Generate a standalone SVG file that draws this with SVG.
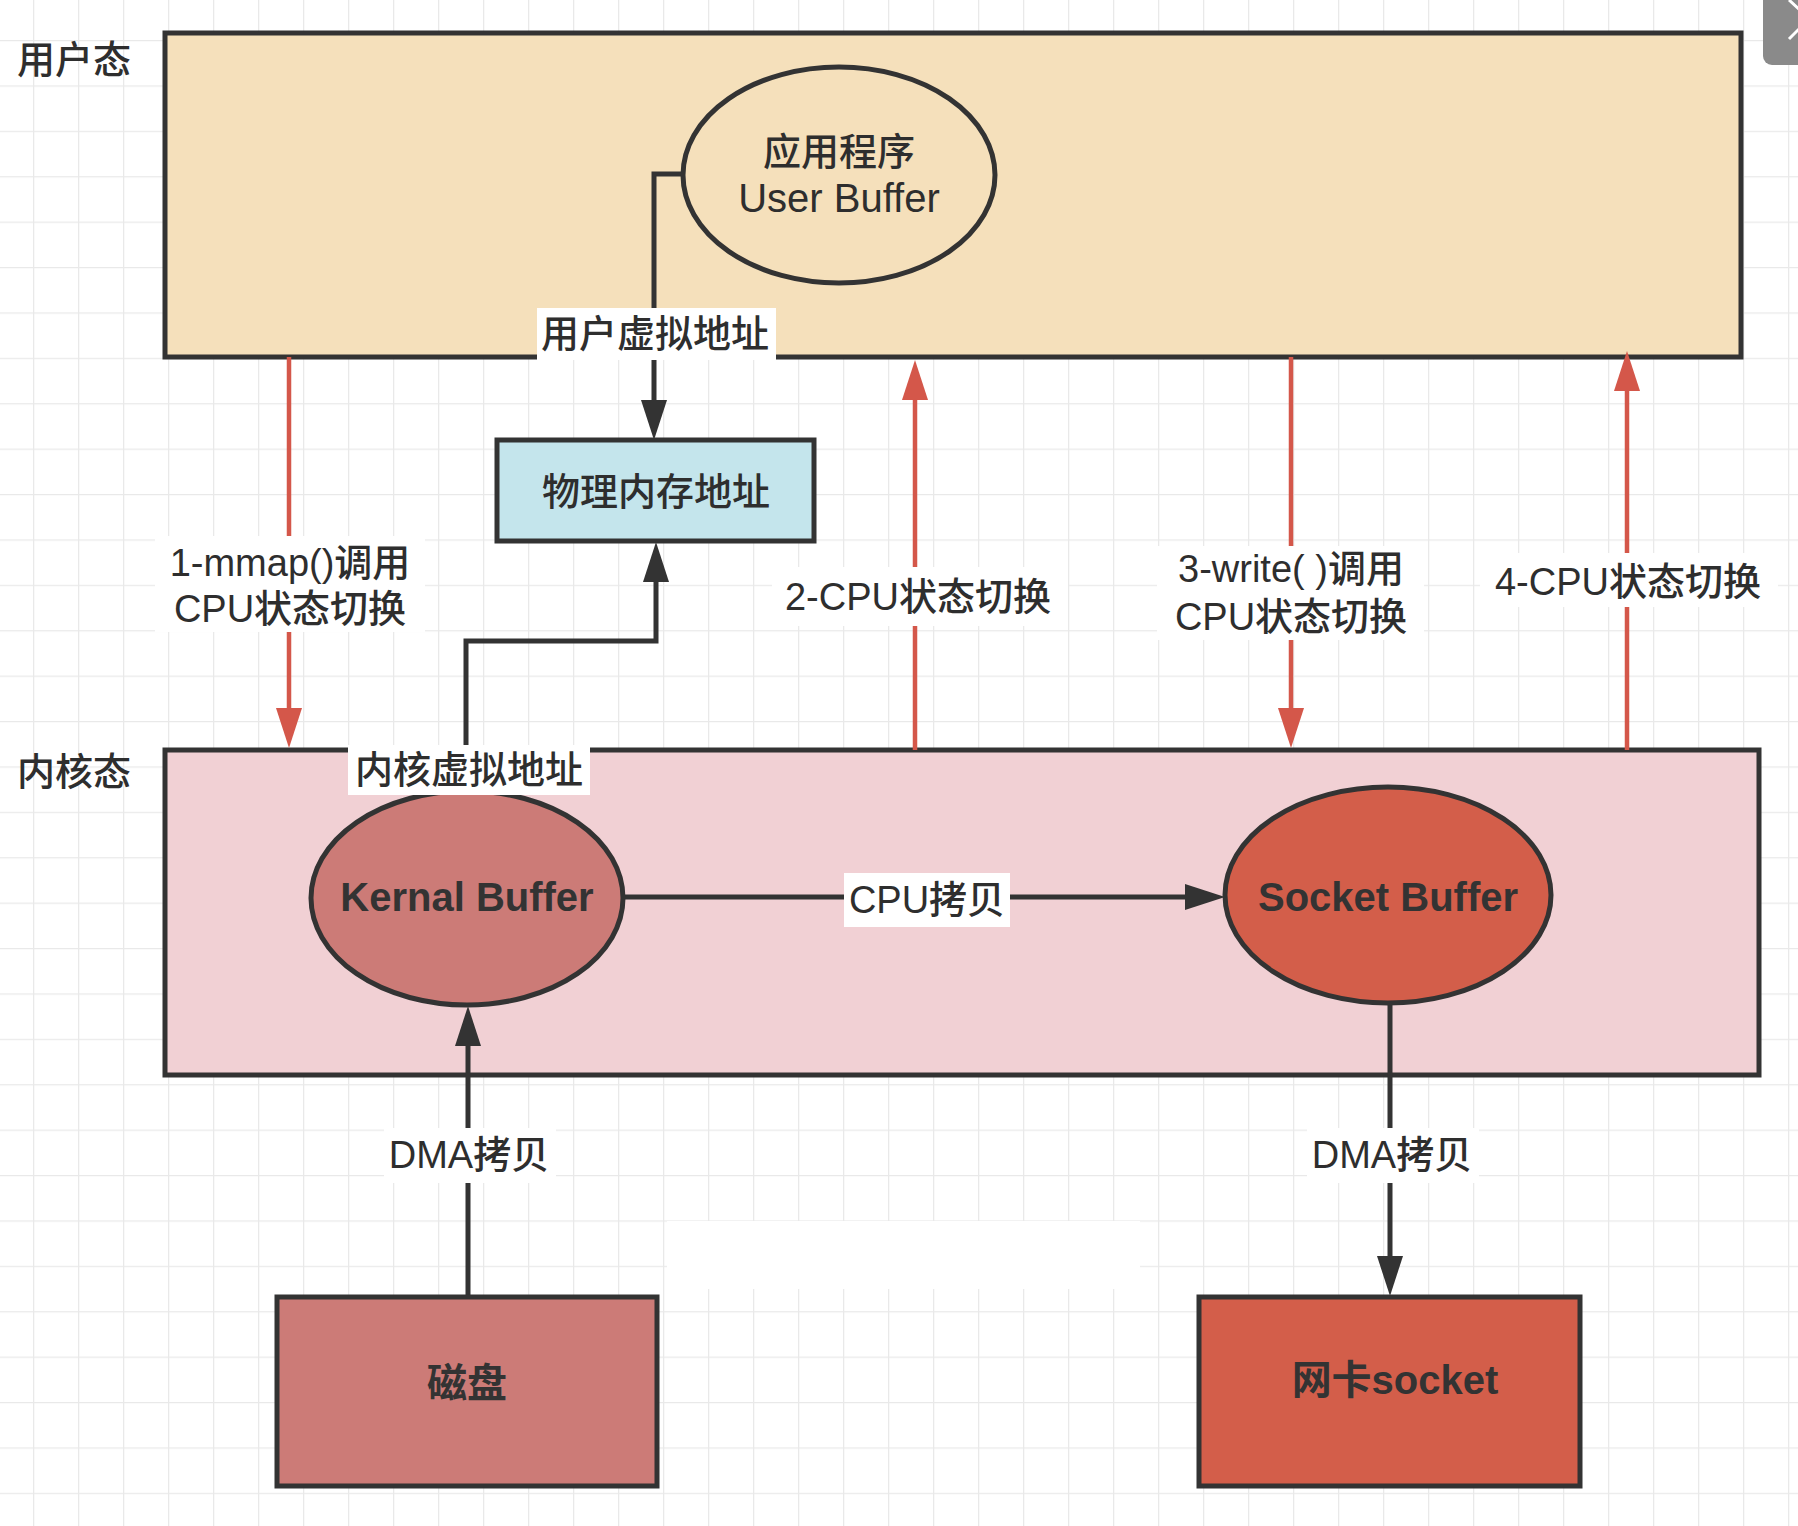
<svg xmlns="http://www.w3.org/2000/svg" width="1798" height="1526" viewBox="0 0 1798 1526">
<style>
text{font-family:"Liberation Sans","Noto Sans CJK SC",sans-serif;fill:#2e2e2e;font-weight:500;}
.t38{font-size:38px;}
.lbl{font-size:38px;text-anchor:middle;}
.nb{font-size:40px;font-weight:bold;text-anchor:middle;fill:#333;}
.box{stroke:#333;stroke-width:5;}
.bg{fill:#fff;}
.blk{fill:none;stroke:#333;stroke-width:5;marker-end:url(#ahb);}
.red{fill:none;stroke:#d4574a;stroke-width:4.5;marker-end:url(#ahr);}
</style>
<defs>
<pattern id="grid" patternUnits="userSpaceOnUse" x="33" y="40" width="45" height="45.4">
<path d="M0.5,0 V45.4 M0,0.5 H45" fill="none" stroke="#e9e9e9" stroke-width="1.6"/>
</pattern>
<marker id="ahb" markerUnits="userSpaceOnUse" markerWidth="40" markerHeight="26" viewBox="0 0 40 26" refX="0" refY="13" orient="auto">
<path d="M0,0 L40,13 L0,26 Z" fill="#333"/>
</marker>
<marker id="ahr" markerUnits="userSpaceOnUse" markerWidth="40" markerHeight="26" viewBox="0 0 40 26" refX="0" refY="13" orient="auto">
<path d="M0,0 L40,13 L0,26 Z" fill="#d4574a"/>
</marker>
</defs>
<rect width="1798" height="1526" fill="#fff"/>
<rect width="1798" height="1526" fill="url(#grid)"/>
<rect x="667" y="1221" width="473" height="68" fill="#fff"/>

<g id="btn-close">
<rect x="1763" y="-12" width="50" height="77" rx="9" fill="#8a8a8a"/>
<path d="M1789,0 L1800,10 M1789,39 L1800,28" stroke="#fff" stroke-width="3" fill="none"/>
</g>

<g id="user-space">
<rect class="box" x="165" y="33" width="1576" height="324" fill="#f5e0bb"/>
<text class="t38" x="17" y="73">用户态</text>
</g>
<g id="kernel-space">
<rect class="box" x="165" y="750" width="1594" height="325" fill="#f1d0d4"/>
<text class="t38" x="17" y="785">内核态</text>
</g>

<g id="connectors">
<path class="blk" d="M682,174 H654 V400"/>
<path class="blk" d="M466,791 V641 H656 V582"/>
<path class="blk" d="M623,897 H1185"/>
<path class="blk" d="M468,1297 V1046"/>
<path class="blk" d="M1390,1002 V1256"/>
<path class="red" d="M289,357 V708"/>
<path class="red" d="M915,750 V400"/>
<path class="red" d="M1291,357 V708"/>
<path class="red" d="M1627,750 V391"/>
</g>

<g id="user-buffer">
<ellipse class="box" cx="839" cy="175" rx="156" ry="108" fill="#f5e0bb"/>
<text class="lbl" x="839" y="165">应用程序</text>
<text class="lbl" x="839" y="212" style="font-size:40px">User Buffer</text>
</g>
<g id="physical-memory">
<rect class="box" x="497" y="440" width="317" height="101" fill="#c4e5ec"/>
<text class="lbl" x="656" y="505">物理内存地址</text>
</g>
<g id="kernel-buffer">
<ellipse class="box" cx="467" cy="898" rx="156" ry="107" fill="#cc7b77"/>
<text class="nb" x="467" y="911">Kernal Buffer</text>
</g>
<g id="socket-buffer">
<ellipse class="box" cx="1388" cy="895" rx="163" ry="108" fill="#d35e4a"/>
<text class="nb" x="1388" y="911">Socket Buffer</text>
</g>
<g id="disk">
<rect class="box" x="277" y="1297" width="380" height="189" fill="#cc7b77"/>
<text class="nb" x="467" y="1397">磁盘</text>
</g>
<g id="nic">
<rect class="box" x="1199" y="1297" width="381" height="189" fill="#d35e4a"/>
<text class="nb" x="1395" y="1394">网卡socket</text>
</g>

<g id="edge-labels">
<rect class="bg" x="537" y="308" width="239" height="52"/>
<text class="lbl" x="655" y="347">用户虚拟地址</text>
<rect class="bg" x="348" y="745" width="242" height="50"/>
<text class="lbl" x="469" y="783">内核虚拟地址</text>
<rect class="bg" x="155" y="536" width="270" height="96"/>
<text class="lbl" x="290" y="576">1-mmap()调用</text>
<text class="lbl" x="290" y="622">CPU状态切换</text>
<rect class="bg" x="772" y="567" width="296" height="59"/>
<text class="lbl" x="918" y="610">2-CPU状态切换</text>
<rect class="bg" x="1157" y="546" width="267" height="94"/>
<text class="lbl" x="1291" y="582">3-write( )调用</text>
<text class="lbl" x="1291" y="630">CPU状态切换</text>
<rect class="bg" x="1480" y="553" width="298" height="54"/>
<text class="lbl" x="1628" y="595">4-CPU状态切换</text>
<rect class="bg" x="844" y="873" width="166" height="54"/>
<text class="lbl" x="927" y="913">CPU拷贝</text>
<rect class="bg" x="384" y="1128" width="172" height="55"/>
<text class="lbl" x="469" y="1168">DMA拷贝</text>
<rect class="bg" x="1307" y="1128" width="172" height="55"/>
<text class="lbl" x="1392" y="1168">DMA拷贝</text>
</g>
</svg>
